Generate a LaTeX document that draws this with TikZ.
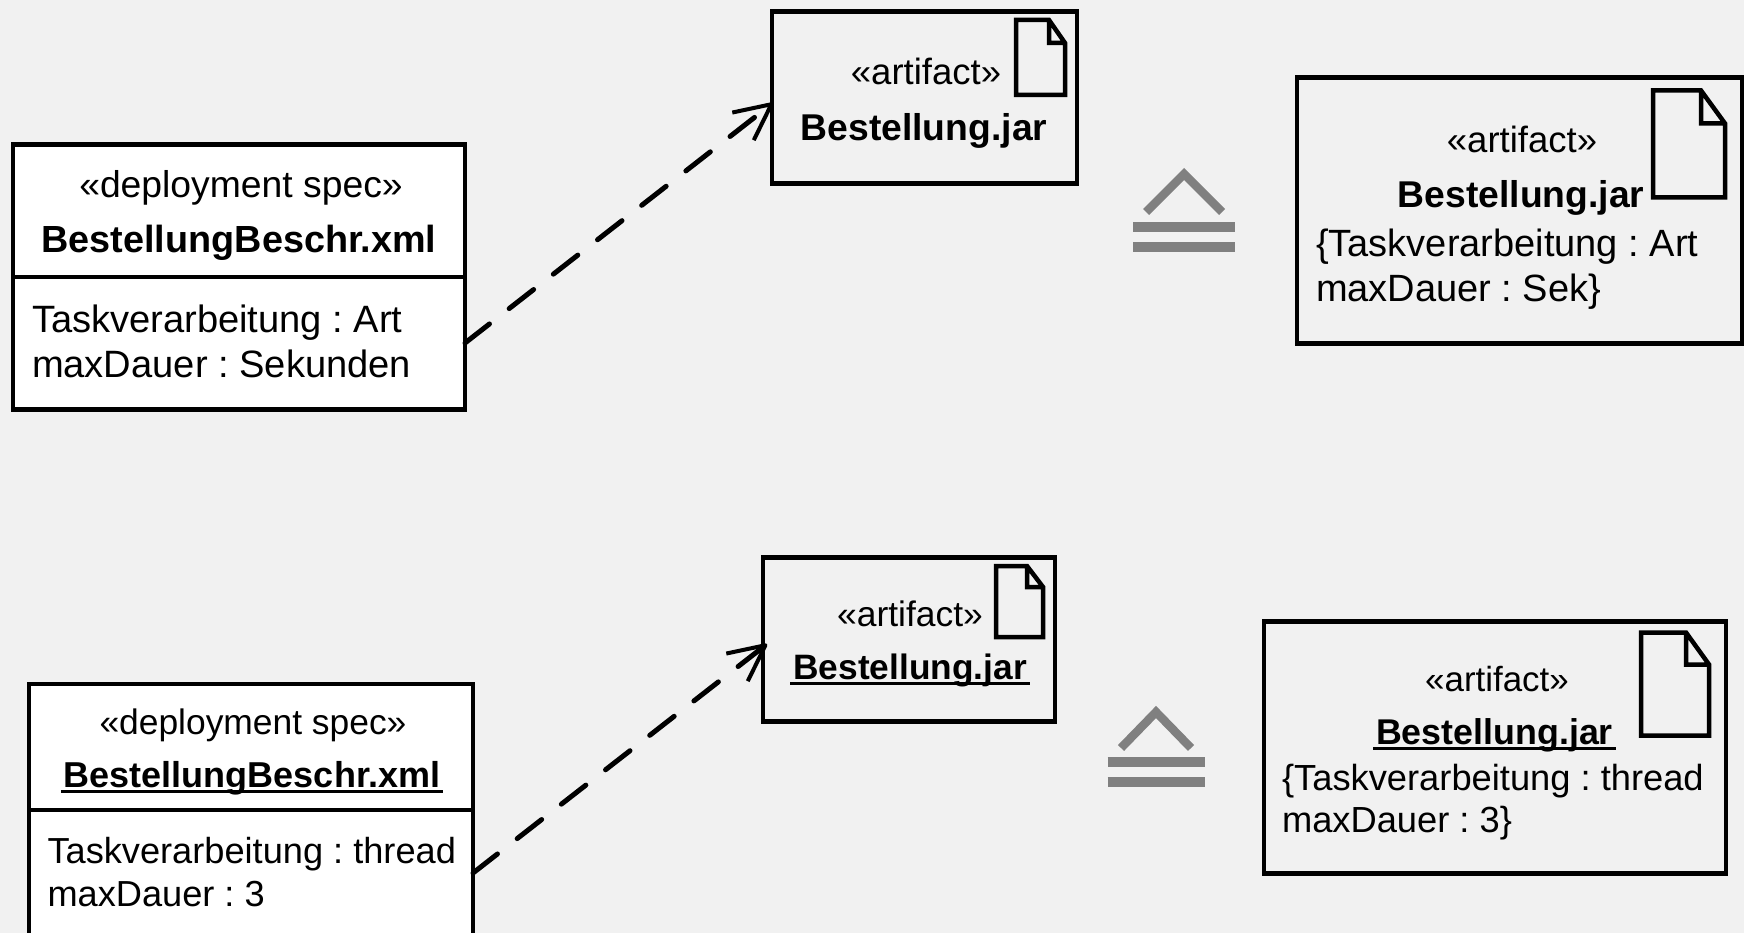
\documentclass[tikz,border=0pt]{standalone}
\usepackage{fontspec}
\usetikzlibrary{arrows.meta}
\setmainfont{Liberation Sans}
\frenchspacing
\definecolor{bg}{HTML}{F1F1F1}
\definecolor{eqgray}{HTML}{808080}
\newcommand\fs[1]{\fontsize{#1}{#1}\selectfont}
\newcommand\ulbf[1]{\setbox0\hbox{\bfseries #1}\rlap{\kern-3pt\vrule width \dimexpr\wd0+6pt\relax height -2.5pt depth 5.5pt}\box0}
\newcommand\docicon[6]{\draw[iconline] (#1,#2) -- (#5,#2) -- (#3,#6) -- (#3,#4) -- (#1,#4) -- cycle (#5,#2) -- (#5,#6) -- (#3,#6);}
\tikzset{
  boxw/.style={draw=black,line width=4.5pt,fill=white,inner sep=0,outer sep=0,anchor=north west},
  boxp/.style={draw=black,line width=4.5pt,inner sep=0,outer sep=0,anchor=north west},
  lbl/.style={inner sep=0,outer sep=0,anchor=base,text=black},
  lbll/.style={inner sep=0,outer sep=0,anchor=base west,text=black},
  iconline/.style={draw=black,line width=4.5pt,miter limit=4},
  eqchev/.style={draw=eqgray,line width=8.5pt,miter limit=6},
  eqbar/.style={draw=eqgray,line width=9.5pt},
  dep/.style={draw=black,line width=5pt,line cap=round,dash pattern=on 31pt off 25pt,
    -{Straight Barb[length=36pt,width=35pt,line width=4pt,round=false,line cap=butt]}},
}
\begin{document}
\begin{tikzpicture}[x=1pt,y=-1pt]
\fill[bg] (0,0) rectangle (1744,933);
\useasboundingbox (0,0) rectangle (1744,933);

% top row
\node[boxw,minimum width=452pt,minimum height=265pt] (specA) at (13,144.5) {};
\draw[line width=4.5pt] (specA.west |- 0,277) -- (specA.east |- 0,277);
\node[lbl] (specAs) at (241,198) {\fs{37.3}«deployment spec»};
\node[lbl] (specAn) at (239,253) {\fs{37.8}\bfseries BestellungBeschr.xml};
\node[lbll] (specAp) at (32,332) {\fs{38.1}Taskverarbeitung : Art};
\node[lbll] (specAq) at (32,377) {\fs{38.1}maxDauer : Sekunden};

\node[boxp,minimum width=305pt,minimum height=172pt] (artA) at (772,11.5) {};
\docicon{1016}{20}{1065}{95}{1049}{43}
\node[lbl] (artAs) at (926,84.5) {\fs{36.5}«artifact»};
\node[lbl] (artAn) at (924,141) {\fs{37.3}\bfseries Bestellung.jar};

\coordinate (depAs) at (specA.east |- 0,343);
\coordinate (depAe) at (773,103);
\draw[dep] (depAs) -- (depAe);

\draw[eqchev] (1146,212) -- (1184,174) -- (1222,212);
\draw[eqbar] (1133,227) -- (1235,227);
\draw[eqbar] (1133,247) -- (1235,247);

\node[boxp,minimum width=445pt,minimum height=266pt] (artB) at (1297,77.5) {};
\docicon{1653}{90.5}{1725}{197.5}{1701}{123.5}
\node[lbl] (artBs) at (1522,153) {\fs{36.5}«artifact»};
\node[lbl] (artBn) at (1521,208) {\fs{37.3}\bfseries Bestellung.jar};
\node[lbll] (artBp) at (1316,257) {\fs{38}\{Taskverarbeitung : Art};
\node[lbll] (artBq) at (1316,301) {\fs{38}maxDauer : Sek\}};

% bottom row
\node[boxw,minimum width=444pt,minimum height=270pt] (specB) at (29,684) {};
\draw[line width=4.5pt] (specB.west |- 0,810) -- (specB.east |- 0,810);
\node[lbl] (specBs) at (253,734) {\fs{35.4}«deployment spec»};
\node[lbl] (specBn) at (252,787) {\fs{36}\ulbf{BestellungBeschr.xml}};
\node[lbll] (specBp) at (47.5,863) {\fs{36.2}Taskverarbeitung : thread};
\node[lbll] (specBq) at (47.5,906) {\fs{36.2}maxDauer : 3};

\node[boxp,minimum width=292pt,minimum height=164pt] (artC) at (763,557.5) {};
\docicon{996}{566}{1043}{637}{1027}{587}
\node[lbl] (artCs) at (910,626) {\fs{35.4}«artifact»};
\node[lbl] (artCn) at (910,679) {\fs{35.3}\ulbf{Bestellung.jar}};

\coordinate (depBs) at (specB.east |- 0,873);
\coordinate (depBe) at (767,644);
\draw[dep] (depBs) -- (depBe);

\draw[eqchev] (1121,748) -- (1156,712) -- (1191,748);
\draw[eqbar] (1107.5,762) -- (1205,762);
\draw[eqbar] (1107.5,782) -- (1205,782);

\node[boxp,minimum width=462pt,minimum height=252pt] (artD) at (1264,621.5) {};
\docicon{1641}{632.5}{1709}{735.5}{1686}{664.5}
\node[lbl] (artDs) at (1497,691) {\fs{34.9}«artifact»};
\node[lbl] (artDn) at (1494.5,744) {\fs{35.8}\ulbf{Bestellung.jar}};
\node[lbll] (artDp) at (1282,790) {\fs{36.3}\{Taskverarbeitung : thread};
\node[lbll] (artDq) at (1282,832) {\fs{36.3}maxDauer : 3\}};
\end{tikzpicture}
\end{document}
